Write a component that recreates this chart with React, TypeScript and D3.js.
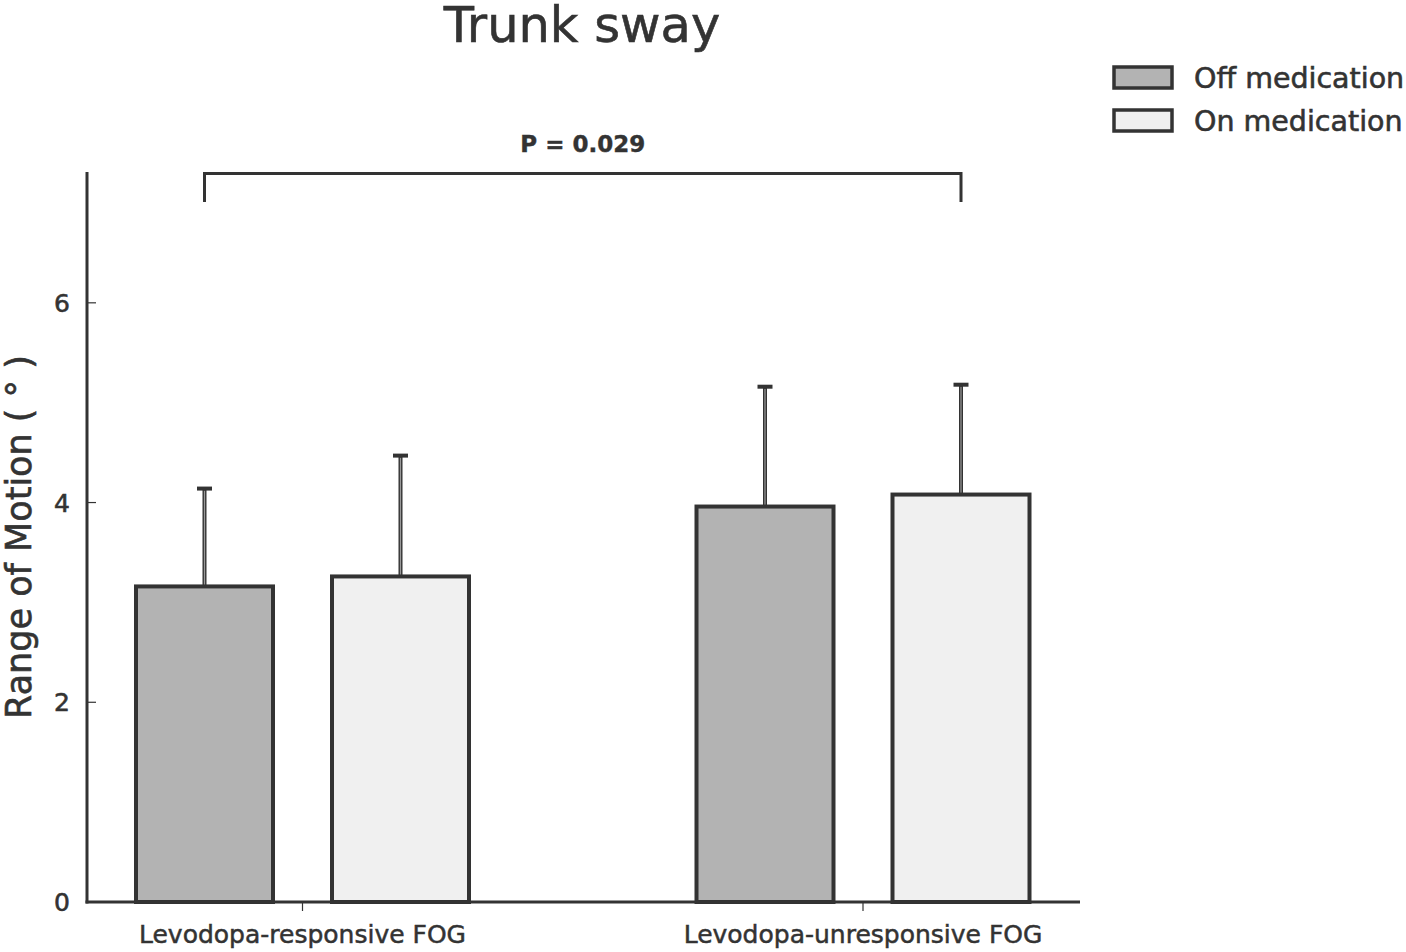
import { useRef, useEffect } from 'react';
import * as d3 from 'd3';

const groups = ['Levodopa-responsive FOG', 'Levodopa-unresponsive FOG'];
const series = ['Off medication', 'On medication'];
const fills = ['#b3b3b3', '#f0f0f0'];
const means = [
  [3.16, 3.26],
  [3.96, 4.08],
];
const errors = [
  [0.98, 1.21],
  [1.2, 1.1],
];
const yTicks = [0, 2, 4, 6];
const pLabel = 'P = 0.029';

export default function App() {
  const svgRef = useRef<SVGSVGElement>(null);
  const width = 1406;
  const height = 952;

  useEffect(() => {
    const svg = d3.select(svgRef.current);
    svg.selectAll('*').remove();
    const ink = '#333333';
    const font = 'DejaVu Sans, sans-serif';

    const left = 87, right = 1080, top = 172, bottom = 902;

    const y = d3.scaleLinear().domain([0, 7.31]).range([bottom, top]);
    // group centres and bar offsets
    const gx = d3.scaleLinear().domain([0, 1]).range([302.5, 863]);
    const sx = d3.scaleLinear().domain([0, 1]).range([-98, 98]);
    const barW = 137;

    const txt = (sel: d3.Selection<SVGTextElement, unknown, null, undefined>, size: number, sw = 0.5) =>
      sel.attr('font-family', font).attr('font-size', size).attr('fill', ink)
        .attr('stroke', ink).attr('stroke-width', sw);

    // Title
    txt(svg.append('text').attr('x', 582).attr('y', 42).attr('text-anchor', 'middle'), 49.5, 0.6)
      .text('Trunk sway');

    // Bars with upper error bars
    groups.forEach((g, gi) => {
      series.forEach((s, si) => {
        const cx = gx(gi) + sx(si);
        const v = means[gi][si];
        const e = errors[gi][si];
        svg.append('line').attr('x1', cx).attr('x2', cx).attr('y1', y(v)).attr('y2', y(v + e))
          .attr('stroke', ink).attr('stroke-width', 4);
        svg.append('line').attr('x1', cx).attr('x2', cx).attr('y1', y(v)).attr('y2', y(v + e) + 2)
          .attr('stroke', '#999').attr('stroke-width', 1.2);
        svg.append('line').attr('x1', cx - 7.5).attr('x2', cx + 7.5).attr('y1', y(v + e)).attr('y2', y(v + e))
          .attr('stroke', ink).attr('stroke-width', 4);
        svg.append('rect').attr('x', cx - barW / 2).attr('y', y(v)).attr('width', barW)
          .attr('height', y(0) - y(v)).attr('fill', fills[si]).attr('stroke', ink).attr('stroke-width', 4);
      });
    });

    // Axes
    svg.append('line').attr('x1', left).attr('x2', left).attr('y1', top).attr('y2', bottom + 1.5)
      .attr('stroke', ink).attr('stroke-width', 3);
    svg.append('line').attr('x1', left - 1.5).attr('x2', right).attr('y1', bottom).attr('y2', bottom)
      .attr('stroke', ink).attr('stroke-width', 3);

    yTicks.forEach(t => {
      if (t > 0) {
        svg.append('line').attr('x1', left).attr('x2', left + 9).attr('y1', y(t)).attr('y2', y(t))
          .attr('stroke', ink).attr('stroke-width', 1.2);
      }
      txt(svg.append('text').attr('x', 70).attr('y', y(t)).attr('dy', '0.36em').attr('text-anchor', 'end'), 25, 0.6)
        .text(t);
    });

    groups.forEach((g, gi) => {
      svg.append('line').attr('x1', gx(gi)).attr('x2', gx(gi)).attr('y1', bottom).attr('y2', bottom + 9)
        .attr('stroke', ink).attr('stroke-width', 1.2);
      txt(svg.append('text').attr('x', gx(gi)).attr('y', 943).attr('text-anchor', 'middle'), 25, 0.5)
        .text(g);
    });

    txt(svg.append('text').attr('transform', `translate(31,${537}) rotate(-90)`).attr('text-anchor', 'middle'), 35, 0.6)
      .text('Range of Motion ( ° )');

    // Significance bracket
    const bx1 = gx(0) + sx(0);
    const bx2 = gx(1) + sx(1);
    svg.append('path')
      .attr('d', `M${bx1},202 V173.5 H${bx2} V202`)
      .attr('fill', 'none').attr('stroke', ink).attr('stroke-width', 3);
    txt(svg.append('text').attr('x', (bx1 + bx2) / 2).attr('y', 152).attr('text-anchor', 'middle'), 23, 0.4)
      .attr('font-weight', 'bold').text(pLabel);

    // Legend
    series.forEach((s, si) => {
      const ly = 67 + si * 43;
      svg.append('rect').attr('x', 1114).attr('y', ly).attr('width', 58).attr('height', 21)
        .attr('fill', fills[si]).attr('stroke', ink).attr('stroke-width', 3.5);
      txt(svg.append('text').attr('x', 1194).attr('y', ly + 10.5).attr('dy', '0.36em'), 28.5, 0.6)
        .text(s);
    });
  }, []);

  return (
    <svg ref={svgRef} width={width} height={height}
      style={{ position: 'absolute', left: 0, top: 0, background: '#fff' }} />
  );
}
